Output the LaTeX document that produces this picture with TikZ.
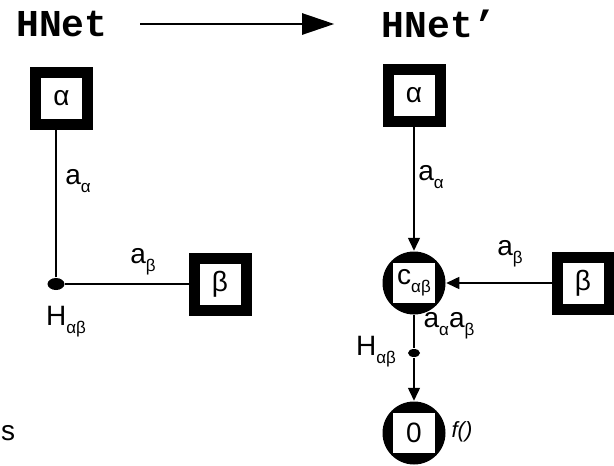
\documentclass[tikz,border=0pt]{standalone}
\usepackage{fontspec}
\setmainfont{Liberation Sans}
\setmonofont{Liberation Mono}
\usetikzlibrary{arrows.meta}
\usetikzlibrary{shapes.geometric}
\usetikzlibrary{positioning}
\tikzset{box/.style = {draw, line width = 11pt, minimum size = 52pt, inner sep = 0}}
\tikzset{ring/.style = {circle, fill, minimum size = 63pt, inner sep = 0,
                        path picture = {\fill [white] ([xshift = -21pt, yshift = -20pt] path picture bounding box.center)
                                        rectangle ++(42pt, 40pt);}}}
\tikzset{dot/.style = {ellipse, fill, inner sep = 0, minimum width = 17pt, minimum height = 12pt}}
\tikzset{arr/.style = {-{Triangle[length = 13pt, width = 12pt]}}}
\tikzset{lbl/.style = {font = \fontsize{28}{30}\selectfont, inner sep = 0}}
\newcommand{\low}[1]{\raisebox{-0.55ex}{\fontsize{17}{17}\selectfont #1}}

\begin{document}
\begin{tikzpicture}[x=1pt, y=-1pt, line width = 1.5pt]
    \useasboundingbox (0, 0) rectangle (614, 466);

    \node [inner sep = 0, font = \fontsize{38}{40}\selectfont\ttfamily\bfseries] (hnet) at (62, 24) {HNet};
    \node [inner sep = 0, font = \fontsize{38}{40}\selectfont\ttfamily\bfseries] (hnetp) at (439, 24) {HNet’};
    \draw [-{Triangle[length = 32pt, width = 21pt]}, line width = 2.5pt, shorten <= 32pt, shorten >= 47pt] (hnet) -- (hnetp);

    % HNet
    \node [box, lbl] (alphaL) at (61.5, 98.5) {α};
    \node [dot] (dotL) at (56, 284) {};
    \node [box, lbl] (betaL) at (220, 284) {β};
    \draw (dotL) -- (dotL |- alphaL.south);
    \draw (dotL) -- (betaL);
    \node [lbl] (aaL) at (78, 181) {a\low{α}};
    \node [lbl] (abL) at (143, 262) {a\low{β}};
    \node [lbl] (hL) at (66, 322) {H\low{αβ}};
    \node [lbl, anchor = west] (sL) at (0.5, 433) {s};

    % HNet'
    \node [box, lbl] (alphaR) at (414, 95) {α};
    \node [ring, lbl] (cab) at (414, 283) {c\low{αβ}};
    \node [box, lbl] (betaR) at (583, 283) {β};
    \node [dot, minimum width = 12pt, minimum height = 8pt] (dotR) at (414, 353) {};
    \node [ring, lbl] (oR) at (414, 433) {0};
    \draw [arr] (alphaR) -- (cab);
    \draw [arr] (betaR) -- (cab);
    \draw (cab) -- (dotR);
    \draw [arr] (dotR) -- (oR);
    \node [lbl] (aaR) at (431, 177) {a\low{α}};
    \node [lbl] (abR) at (510, 254) {a\low{β}};
    \node [lbl] (aabR) at (449, 326) {a\low{α}a\low{β}};
    \node [lbl] (hR) at (376, 352) {H\low{αβ}};
    \node [inner sep = 0, font = \fontsize{22}{24}\selectfont\itshape] (fR) at (462, 432) {f()};
\end{tikzpicture}
\end{document}
